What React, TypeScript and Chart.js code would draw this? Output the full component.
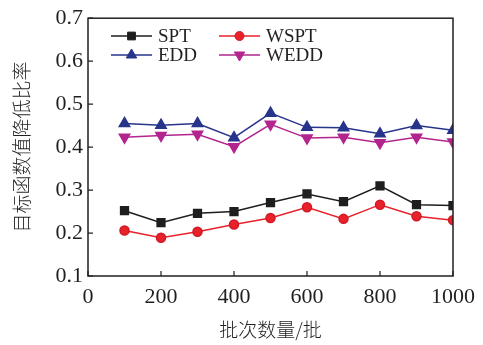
import React, { useEffect, useRef } from "react";
import { Chart, registerables } from "chart.js";

Chart.register(...registerables);

const batchSizes = [100, 200, 300, 400, 500, 600, 700, 800, 900, 1000];
const sptValues = [0.252, 0.224, 0.246, 0.25, 0.271, 0.291, 0.273, 0.31, 0.266, 0.264];
const wsptValues = [0.206, 0.189, 0.203, 0.22, 0.235, 0.26, 0.233, 0.266, 0.239, 0.23];
const eddValues = [0.455, 0.451, 0.455, 0.422, 0.479, 0.446, 0.445, 0.431, 0.45, 0.439];
const weddValues = [0.423, 0.427, 0.43, 0.401, 0.453, 0.421, 0.423, 0.41, 0.423, 0.412];
const seriesNames = ["SPT", "WSPT", "EDD", "WEDD"];
const xTitle = "批次数量/批";
const yTitle = "目标函数值降低比率";

const serif = '"Liberation Serif", "Times New Roman", serif';
const cjk = '"Noto Sans CJK SC", sans-serif';

const toPoints = (vals: number[]) => batchSizes.map((x, i) => ({ x, y: vals[i] }));

const framePlugin = {
  id: "frameAndTicks",
  afterDatasetsDraw(chart: any) {
    const { ctx, chartArea } = chart;
    const { left, right, top, bottom } = chartArea;
    const xs = chart.scales.x;
    const ys = chart.scales.y;
    ctx.save();
    ctx.strokeStyle = "#231f20";
    ctx.lineWidth = 1.5;
    ctx.strokeRect(left, top, right - left, bottom - top);
    ctx.lineWidth = 1.2;
    ctx.beginPath();
    xs.ticks.forEach((t: any) => {
      const px = xs.getPixelForValue(t.value);
      ctx.moveTo(px, bottom);
      ctx.lineTo(px, bottom - 5);
    });
    ys.ticks.forEach((t: any) => {
      const py = ys.getPixelForValue(t.value);
      ctx.moveTo(left, py);
      ctx.lineTo(left + 5, py);
    });
    ctx.stroke();
    ctx.restore();
  },
};

function drawMarker(ctx: CanvasRenderingContext2D, style: string, x: number, y: number, r: number, rot: number) {
  ctx.beginPath();
  if (style === "rect") {
    const s = r * Math.SQRT1_2;
    ctx.rect(x - s, y - s, 2 * s, 2 * s);
  } else if (style === "circle") {
    ctx.arc(x, y, r, 0, Math.PI * 2);
  } else {
    const rad = (rot * Math.PI) / 180;
    for (let k = 0; k < 3; k++) {
      const a = rad + (k * 2 * Math.PI) / 3;
      const px = x + Math.sin(a) * r;
      const py = y - Math.cos(a) * r;
      if (k === 0) ctx.moveTo(px, py);
      else ctx.lineTo(px, py);
    }
    ctx.closePath();
  }
  ctx.fill();
  ctx.lineWidth = 1;
  ctx.stroke();
}

const legendPlugin = {
  id: "innerLegend",
  afterDatasetsDraw(chart: any) {
    const { ctx } = chart;
    const positions = [
      { x: 111, y: 36 },
      { x: 219, y: 36 },
      { x: 111, y: 55 },
      { x: 219, y: 55 },
    ];
    ctx.save();
    chart.data.datasets.forEach((ds: any, i: number) => {
      const p = positions[i];
      ctx.strokeStyle = ds.borderColor;
      ctx.lineWidth = 1.5;
      ctx.beginPath();
      ctx.moveTo(p.x, p.y);
      ctx.lineTo(p.x + 41, p.y);
      ctx.stroke();
      ctx.fillStyle = ds.pointBackgroundColor;
      ctx.strokeStyle = ds.pointBorderColor;
      drawMarker(ctx, ds.pointStyle, p.x + 20.5, p.y, ds.pointRadius, ds.pointRotation || 0);
      ctx.fillStyle = "#231f20";
      ctx.font = `19px ${serif}`;
      ctx.textBaseline = "middle";
      ctx.textAlign = "left";
      ctx.fillText(ds.label, p.x + 47, p.y + 1);
    });
    ctx.restore();
  },
};

export default function App() {
  const canvasRef = useRef<HTMLCanvasElement | null>(null);

  useEffect(() => {
    document.body.style.margin = "0";
    const canvas = canvasRef.current;
    if (!canvas) return;
    const chart = new Chart(canvas, {
      type: "line",
      data: {
        datasets: [
          {
            label: seriesNames[0],
            data: toPoints(sptValues),
            borderColor: "#1e1e1e",
            backgroundColor: "#1e1e1e",
            pointBackgroundColor: "#1e1e1e",
            pointBorderColor: "#1e1e1e",
            pointStyle: "rect",
            pointRadius: 5.5,
            borderWidth: 1.5,
          },
          {
            label: seriesNames[1],
            data: toPoints(wsptValues),
            borderColor: "#e8212b",
            backgroundColor: "#e8212b",
            pointBackgroundColor: "#e8212b",
            pointBorderColor: "#d01a24",
            pointStyle: "circle",
            pointRadius: 4.5,
            borderWidth: 1.5,
          },
          {
            label: seriesNames[2],
            data: toPoints(eddValues),
            borderColor: "#27348b",
            backgroundColor: "#27348b",
            pointBackgroundColor: "#27348b",
            pointBorderColor: "#27348b",
            pointStyle: "triangle",
            pointRadius: 6,
            borderWidth: 1.5,
          },
          {
            label: seriesNames[3],
            data: toPoints(weddValues),
            borderColor: "#b3258e",
            backgroundColor: "#b3258e",
            pointBackgroundColor: "#b3258e",
            pointBorderColor: "#b3258e",
            pointStyle: "triangle",
            pointRotation: 180,
            pointRadius: 6,
            borderWidth: 1.5,
          },
        ] as any,
      },
      options: {
        animation: false,
        responsive: false,
        layout: { padding: { top: 14, right: 25, left: 0, bottom: 0 } },
        plugins: {
          legend: { display: false },
          tooltip: { enabled: false },
        },
        scales: {
          x: {
            type: "linear",
            min: 0,
            max: 1000,
            grid: { display: false, drawTicks: false },
            border: { display: false },
            ticks: {
              stepSize: 200,
              color: "#231f20",
              font: { family: serif, size: 22 },
              padding: 8,
              maxRotation: 0,
              callback: (v: any) => String(v),
            },
            title: {
              display: true,
              text: xTitle,
              color: "#231f20",
              font: { family: cjk, size: 19, weight: "300" },
              padding: { top: 0, bottom: 4 },
            },
            afterFit: (scale: any) => {
              scale.height = 69;
            },
          },
          y: {
            min: 0.1,
            max: 0.7,
            grid: { display: false, drawTicks: false },
            border: { display: false },
            ticks: {
              stepSize: 0.1,
              color: "#231f20",
              font: { family: serif, size: 22 },
              padding: 5,
              callback: (v: any) => Number(v).toFixed(1),
            },
            title: {
              display: true,
              text: yTitle,
              color: "#231f20",
              font: { family: cjk, size: 19, weight: "300" },
              padding: { top: 10, bottom: 0 },
            },
            afterFit: (scale: any) => {
              scale.width = 88;
            },
          },
        },
      } as any,
      plugins: [framePlugin, legendPlugin],
    });
    return () => chart.destroy();
  }, []);

  return (
    <div style={{ position: "fixed", left: 0, top: 0, width: 483, height: 345 }}>
      <canvas ref={canvasRef} width={483} height={345} style={{ width: 483, height: 345 }} />
    </div>
  );
}
